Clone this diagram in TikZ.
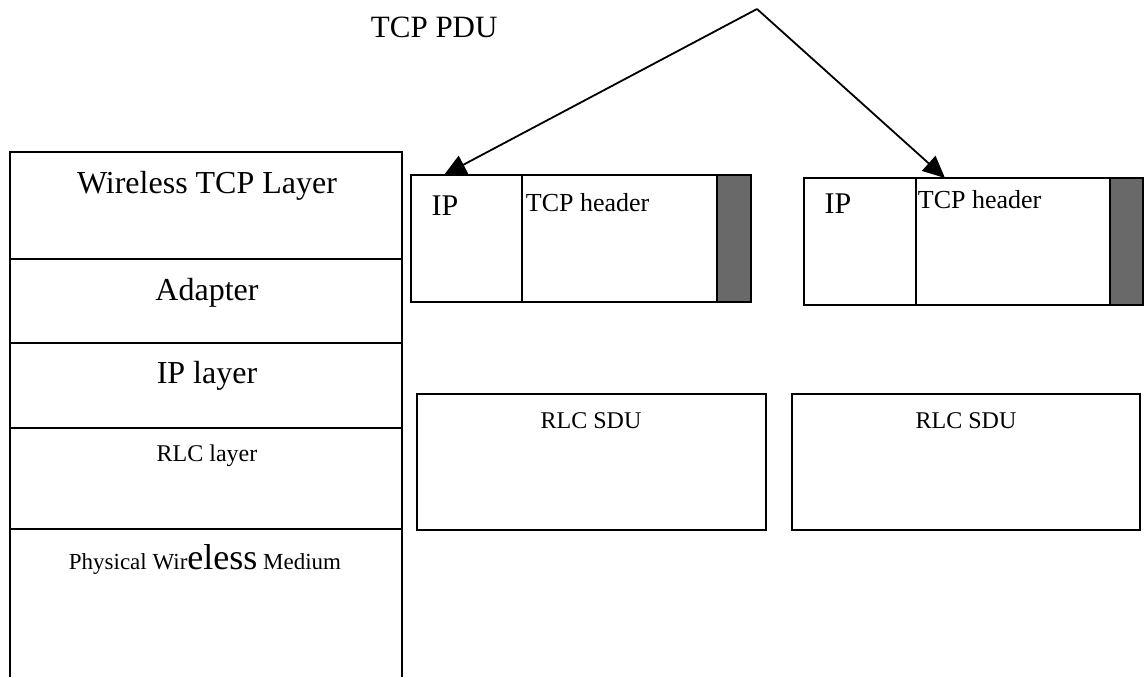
\documentclass[tikz,border=0pt]{standalone}
\usepackage{fontspec}
\setmainfont{Liberation Serif}
\usetikzlibrary{arrows.meta}
\definecolor{trailergray}{RGB}{105,105,105}

\newcommand{\fsz}[1]{\fontsize{#1}{#1}\selectfont}

\begin{document}
\begin{tikzpicture}[x=0.5pt, y=-0.5pt, line width=0.9pt, >={Triangle[length=11pt, width=10pt]}]

\useasboundingbox (0,0) rectangle (1144,677);

% =============================================================================
% PILE DE COUCHES (gauche)
% =============================================================================
\draw (10,677) -- (10,152) -- (402,152) -- (402,677);
\foreach \y in {259, 343, 428, 529} {
    \draw (10,\y) -- (402,\y);
}

\node[anchor=base, inner sep=0pt, font=\fsz{16}] (wtcp) at (207,193) {Wireless TCP Layer};
\node[anchor=base, inner sep=0pt, font=\fsz{16}] (adapter) at (207,300) {Adapter};
\node[anchor=base, inner sep=0pt, font=\fsz{16}] (iplayer) at (207,383) {IP layer};
\node[anchor=base, inner sep=0pt, font=\fsz{12}] (rlclayer) at (207,461) {RLC layer};
\node[anchor=base, inner sep=0pt, font=\fsz{11.5}] (phys) at (205,569) {Physical Wir{\fsz{18}eless} Medium};

% =============================================================================
% TCP PDU
% =============================================================================
\node[anchor=base west, inner sep=0pt, font=\fsz{15.5}] (pdulabel) at (370,37) {TCP PDU};

% Paquet 1
\fill[trailergray] (717,175) rectangle (751,302);
\draw (411,175) rectangle (751,302);
\draw (522,175) -- (522,302);
\draw (717,175) -- (717,302);
\node[anchor=base, inner sep=0pt, font=\fsz{15}] (ipA) at (445,215) {IP};
\node[anchor=base west, inner sep=0pt, font=\fsz{13}] (tcphA) at (525,211) {TCP header};

% Paquet 2
\fill[trailergray] (1110,178) rectangle (1143,305);
\draw (804,178) rectangle (1143,305);
\draw (916,178) -- (916,305);
\draw (1110,178) -- (1110,305);
\node[anchor=base, inner sep=0pt, font=\fsz{15}] (ipB) at (838,213) {IP};
\node[anchor=base west, inner sep=0pt, font=\fsz{13}] (tcphB) at (917,208) {TCP header};

% Fleches
\coordinate (apex) at (757,9);
\coordinate (tipA) at (444,175);
\coordinate (tipB) at (945,178);
\draw[->] (apex) -- (tipA);
\draw[->] (apex) -- (tipB);

% =============================================================================
% RLC SDU
% =============================================================================
\draw (417,394) rectangle (766,530);
\draw (792,394) rectangle (1140,530);
\node[anchor=base, inner sep=0pt, font=\fsz{12}] (sduA) at (591,428) {RLC SDU};
\node[anchor=base, inner sep=0pt, font=\fsz{12}] (sduB) at (966,428) {RLC SDU};

\end{tikzpicture}
\end{document}
